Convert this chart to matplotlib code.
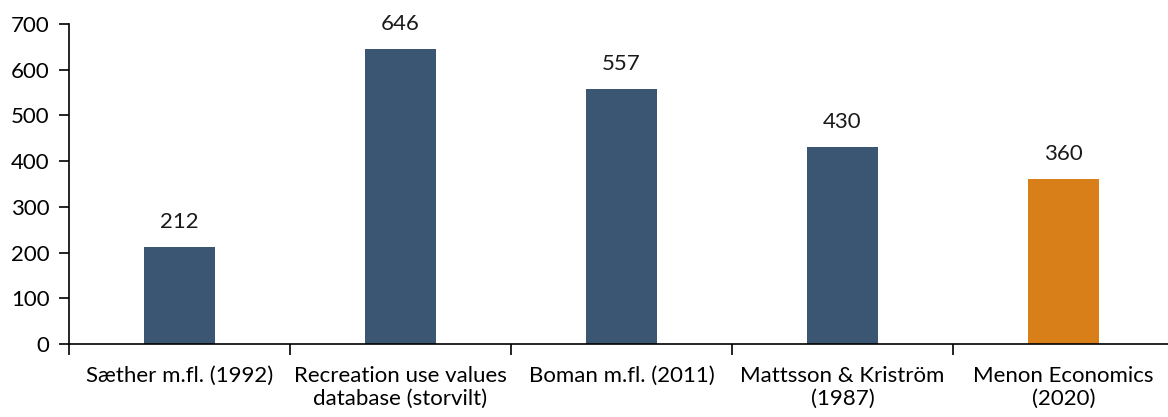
import matplotlib.pyplot as plt

plt.rcParams['font.family'] = ['Lato', 'DejaVu Sans']
plt.rcParams['font.size'] = 16

# data
categories = ['Sæther m.fl. (1992)', 'Recreation use values\ndatabase (storvilt)',
              'Boman m.fl. (2011)', 'Mattsson & Kriström\n(1987)', 'Menon Economics\n(2020)']
values = [212, 646, 557, 430, 360]
bar_colors = ['#3B5672', '#3B5672', '#3B5672', '#3B5672', '#D97F19']

fig = plt.figure(figsize=(11.68, 4.17), dpi=100)
# axes runs a bit past the right edge, like the original
ax = fig.add_axes([69 / 1168, 1 - 344 / 417, 1105 / 1168, (344 - 24) / 417])

x = range(len(values))
bars = ax.bar(x, values, width=0.32, color=bar_colors)
for xi, v in zip(x, values):
    ax.text(xi, v + 33, str(v), ha='center', va='bottom', fontsize=16, color='#1a1a1a')

ax.set_xlim(-0.5, 4.5)
ax.set_ylim(0, 700)
ax.set_yticks(range(0, 701, 100))
ax.set_xticks(list(x))
ax.set_xticklabels(categories, linespacing=1.15)
ax.tick_params(axis='x', length=0, pad=16)
ax.tick_params(axis='y', length=7, width=1.2, pad=7, direction='out')
ax.set_xticks([i - 0.5 for i in range(6)], minor=True)
ax.tick_params(axis='x', which='minor', length=8, width=1.2, direction='out')
for side in ['top', 'right']:
    ax.spines[side].set_visible(False)
for side in ['left', 'bottom']:
    ax.spines[side].set_linewidth(1.2)

plt.savefig('out.png', dpi=100)
